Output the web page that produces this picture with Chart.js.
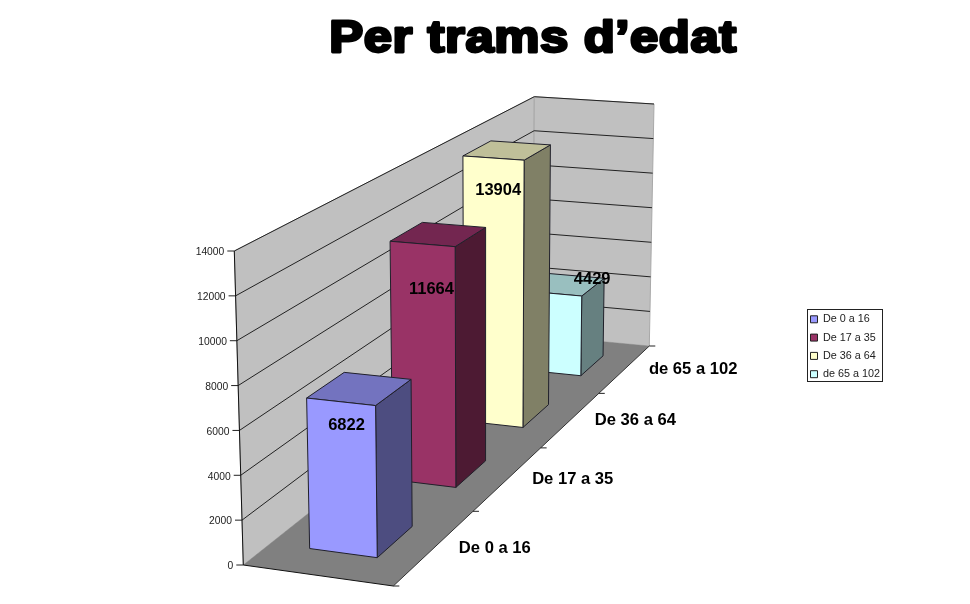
<!DOCTYPE html>
<html>
<head>
<meta charset="utf-8">
<title>Per trams d'edat</title>
<script src="https://cdn.jsdelivr.net/npm/chart.js@4"></script>
<style>
  html, body { margin: 0; padding: 0; background: #fff; }
  canvas { display: block; }
</style>
</head>
<body>
<canvas id="chart" width="970" height="604"></canvas>
<script>
const chartTitle = 'Per trams d’edat';
const categories = ['De 0 a 16', 'De 17 a 35', 'De 36 a 64', 'de 65 a 102'];
const values = [6822, 11664, 13904, 4429];
const tickValues = [0, 2000, 4000, 6000, 8000, 10000, 12000, 14000];
const frontColors = ['#9999FF', '#993366', '#FFFFCC', '#CCFFFF'];
const topColors = ['#7373BF', '#732650', '#BFBF99', '#99BFBF'];
const sideColors = ['#4D4D80', '#4D1A33', '#808066', '#668080'];

// the 3d box on screen: front-left, front-right, back-right, back-left
const floorQuad = [[243.3, 565], [393.3, 586], [649.3, 346], [533, 335]];
const roofQuad = [[234.3, 251], [390.6, 264.3], [654, 104], [534.3, 96.7]];
// bar footprint inside the box (fractions)
const barLeft = 0.27, barRight = 0.73, barDepth = 0.053;
// the value labels were moved by hand in the original
const labelShift = [[-13, 37], [-7, 55], [-9, 40], [27, -5]];

function quadPoint(q, u, d) {
  const sx = q[0][0] - q[1][0] + q[2][0] - q[3][0];
  const sy = q[0][1] - q[1][1] + q[2][1] - q[3][1];
  const dx1 = q[1][0] - q[2][0], dy1 = q[1][1] - q[2][1];
  const dx2 = q[3][0] - q[2][0], dy2 = q[3][1] - q[2][1];
  const det = dx1 * dy2 - dx2 * dy1;
  const g = (sx * dy2 - dx2 * sy) / det;
  const h = (dx1 * sy - sx * dy1) / det;
  const w = g * u + h * d + 1;
  return [
    ((q[1][0] - q[0][0] + g * q[1][0]) * u + (q[3][0] - q[0][0] + h * q[3][0]) * d + q[0][0]) / w,
    ((q[1][1] - q[0][1] + g * q[1][1]) * u + (q[3][1] - q[0][1] + h * q[3][1]) * d + q[0][1]) / w
  ];
}

function project(u, d, h) {
  const a = quadPoint(floorQuad, u, d);
  const b = quadPoint(roofQuad, u, d);
  return [a[0] + (b[0] - a[0]) * h, a[1] + (b[1] - a[1]) * h];
}

function poly(ctx, pts, fill, stroke) {
  ctx.beginPath();
  pts.forEach(function (p, i) {
    if (i === 0) ctx.moveTo(p[0], p[1]);
    else ctx.lineTo(p[0], p[1]);
  });
  ctx.closePath();
  if (fill) { ctx.fillStyle = fill; ctx.fill(); }
  if (stroke) { ctx.strokeStyle = stroke; ctx.lineWidth = 1; ctx.stroke(); }
}

function line(ctx, a, b, color) {
  ctx.beginPath();
  ctx.moveTo(a[0], a[1]);
  ctx.lineTo(b[0], b[1]);
  ctx.strokeStyle = color;
  ctx.lineWidth = 1;
  ctx.stroke();
}

function heightOf(scale, v) {
  return (scale.bottom - scale.getPixelForValue(v)) / (scale.bottom - scale.top);
}

// bar controller that draws each bar element as a box in the projection
class Bar3dController extends Chart.BarController {
  draw() {
    const ctx = this.chart.ctx;
    const i = this.index;
    const el = this.getMeta().data[0];
    const h = (el.base - el.y) / (el.base - this.chart.chartArea.top);
    const mid = (i + 0.5) / categories.length;
    const d0 = mid - barDepth, d1 = mid + barDepth;
    const edge = '#20202a';
    ctx.save();
    ctx.lineJoin = 'round';
    poly(ctx, [project(barRight, d0, 0), project(barRight, d1, 0), project(barRight, d1, h), project(barRight, d0, h)], sideColors[i], edge);
    poly(ctx, [project(barLeft, d0, h), project(barRight, d0, h), project(barRight, d1, h), project(barLeft, d1, h)], topColors[i], edge);
    poly(ctx, [project(barLeft, d0, 0), project(barRight, d0, 0), project(barRight, d0, h), project(barLeft, d0, h)], frontColors[i], edge);
    ctx.restore();
  }
}
Bar3dController.id = 'bar3d';
Bar3dController.defaults = Chart.BarController.defaults;
Chart.register(Bar3dController);

const box3d = {
  id: 'box3d',
  afterLayout: function (chart) {
    // legend sits apart from the plot, as in the original
    const lg = chart.legend;
    lg.left = 803;
    lg.right = 882;
    lg.top = 306.4;
    lg.bottom = 420;
  },
  beforeDatasetsDraw: function (chart) {
    const ctx = chart.ctx;
    const y = chart.scales.y;
    ctx.save();
    poly(ctx, [project(0, 0, 1), project(0, 1, 1), project(0, 1, 0), project(0, 0, 0)], '#C0C0C0', '#a8a8a8');
    poly(ctx, [project(0, 1, 1), project(1, 1, 1), project(1, 1, 0), project(0, 1, 0)], '#C0C0C0', '#a8a8a8');
    poly(ctx, [project(0, 0, 0), project(1, 0, 0), project(1, 1, 0), project(0, 1, 0)], '#808080', null);
    line(ctx, project(0, 0, 0), project(1, 0, 0), '#111');
    line(ctx, project(1, 0, 0), project(1, 1, 0), '#333');

    ctx.font = '10.3px "Liberation Sans", Arial, sans-serif';
    ctx.textAlign = 'right';
    ctx.textBaseline = 'middle';
    tickValues.forEach(function (v) {
      const h = heightOf(y, v);
      const a = project(0, 0, h);
      if (v > 0) {
        line(ctx, a, project(0, 1, h), '#222');
        line(ctx, project(0, 1, h), project(1, 1, h), '#222');
      }
      line(ctx, [a[0] - 7, a[1]], a, '#222');
      ctx.fillStyle = '#222';
      ctx.fillText(String(v), a[0] - 10, a[1] + 1.5);
    });
    line(ctx, project(0, 0, 1), project(0, 0, 0), '#111');

    // depth axis: ticks on the floor edge and category names
    ctx.font = 'bold 16.6px "Liberation Sans", Arial, sans-serif';
    ctx.textAlign = 'left';
    ctx.fillStyle = '#000';
    for (let i = 0; i <= categories.length; i++) {
      const p = project(1, i / categories.length, 0);
      line(ctx, p, [p[0] + 6, p[1]], '#222');
    }
    categories.forEach(function (name, i) {
      const p = project(1, (i + 0.5) / categories.length, 0);
      ctx.fillText(name, p[0] + 24, p[1] + 1);
    });
    ctx.restore();
  },
  afterDatasetsDraw: function (chart) {
    const ctx = chart.ctx;
    ctx.save();
    ctx.font = 'bold 16.5px "Liberation Sans", Arial, sans-serif';
    ctx.textAlign = 'center';
    ctx.textBaseline = 'middle';
    ctx.fillStyle = '#000';
    chart.data.datasets.forEach(function (ds, i) {
      const el = chart.getDatasetMeta(i).data[0];
      const h = (el.base - el.y) / (el.base - chart.chartArea.top);
      const p = project(0.5, (i + 0.5) / categories.length, h);
      ctx.fillText(String(ds.data[0]), p[0] + labelShift[i][0], p[1] + labelShift[i][1]);
    });
    ctx.restore();
  },
  afterDraw: function (chart) {
    const ctx = chart.ctx;
    ctx.save();
    // legend frame
    ctx.strokeStyle = '#222';
    ctx.lineWidth = 1;
    ctx.strokeRect(807.5, 309.5, 75, 72);
    // heavy title, the installed fonts have no black weight
    ctx.translate(533, 51.5);
    ctx.scale(1.13, 1);
    ctx.font = 'bold 45px "Liberation Sans", Arial, sans-serif';
    ctx.letterSpacing = '0.5px';
    ctx.textAlign = 'center';
    ctx.textBaseline = 'alphabetic';
    ctx.lineJoin = 'round';
    ctx.lineWidth = 2.8;
    ctx.strokeStyle = '#000';
    ctx.fillStyle = '#000';
    ctx.strokeText(chartTitle, 0, 0);
    ctx.fillText(chartTitle, 0, 0);
    ctx.restore();
  }
};

Chart.defaults.font.family = '"Liberation Sans", Arial, sans-serif';

new Chart(document.getElementById('chart'), {
  type: 'bar3d',
  data: {
    labels: [''],
    datasets: categories.map(function (name, i) {
      return {
        label: name,
        data: [values[i]],
        backgroundColor: frontColors[i],
        borderColor: '#222',
        borderWidth: 1,
        clip: false
      };
    })
  },
  options: {
    responsive: false,
    animation: false,
    layout: { padding: { left: 234.3, top: 251, bottom: 39, right: 90 } },
    scales: {
      x: { type: 'category', display: false },
      y: {
        type: 'linear',
        display: true,
        min: 0,
        max: 14000,
        afterBuildTicks: function (s) {
          s.ticks = tickValues.map(function (v) { return { value: v }; });
        },
        ticks: { display: false },
        grid: { display: false, drawTicks: false },
        border: { display: false }
      }
    },
    plugins: {
      tooltip: { enabled: false },
      legend: {
        position: 'right',
        align: 'start',
        labels: {
          boxWidth: 7,
          boxHeight: 7,
          padding: 7.5,
          color: '#222',
          font: { size: 10.8 }
        }
      }
    }
  },
  plugins: [box3d]
});
</script>
</body>
</html>
